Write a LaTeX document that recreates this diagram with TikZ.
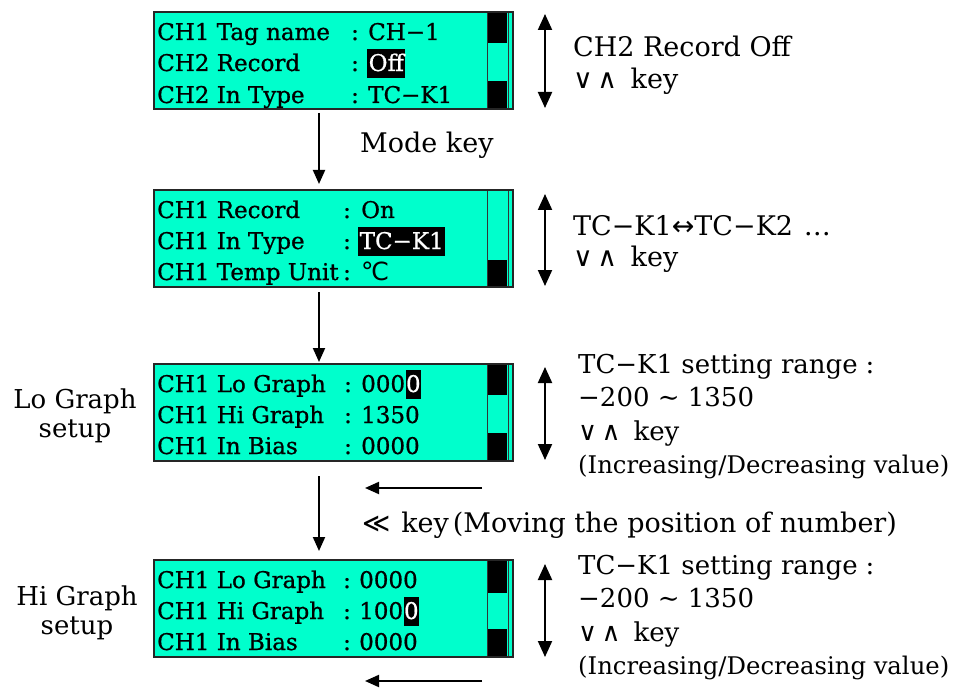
\documentclass[tikz,border=0pt]{standalone}
\usepackage{fontspec}
\setmainfont{DejaVu Serif}
\newfontfamily\symf{DejaVu Sans}
\newfontfamily\lcdfont[FakeBold=0.8]{DejaVu Serif}
\usetikzlibrary{arrows.meta}
\definecolor{lcdcyan}{RGB}{0,255,204}
\begin{document}
\begin{tikzpicture}[x=1pt,y=-1pt,
 lcd/.style={draw=black!85,line width=2.4pt,fill=lcdcyan,minimum width=359pt,minimum height=97pt,inner sep=0pt,outer sep=0pt,anchor=north west},
 ltxt/.style={anchor=base west,inner sep=0pt,font=\lcdfont\fontsize{23}{23}\selectfont},
 lcol/.style={anchor=base,inner sep=0pt,font=\lcdfont\fontsize{23}{23}\selectfont},
 hl/.style={anchor=base west,fill=black,text=white,inner xsep=1.5pt,inner ysep=0pt,text height=22pt,text depth=7pt,font=\lcdfont\fontsize{23}{23}\selectfont},
 lab/.style={anchor=base west,inner sep=0pt,font=\fontsize{27}{27}\selectfont},
 labs/.style={anchor=base west,inner sep=0pt,font=\fontsize{26}{26}\selectfont},
 labt/.style={anchor=base west,inner sep=0pt,font=\fontsize{24.3}{24.3}\selectfont},
 side/.style={anchor=base,inner sep=0pt,font=\fontsize{26}{26}\selectfont},
 arr/.style={line width=2pt,-{Triangle[length=14pt,width=12pt]}},
 darr/.style={line width=2pt,{Triangle[length=16pt,width=14pt]}-{Triangle[length=16pt,width=14pt]}},
 sbline/.style={line width=1pt,black!80}
]
\useasboundingbox (0,0) rectangle (954,690);

% LCD boxes
\node[lcd] (b1) at (154,12) {};
\node[lcd] (b2) at (154,190) {};
\node[lcd] (b3) at (154,364) {};
\node[lcd] (b4) at (154,560) {};

% scroll bars
\fill (488,13) rectangle (507,43);
\fill (488,81) rectangle (507,108);
\draw[sbline] (487,13) -- (487,108) (508,13) -- (508,108);
\fill (488,260) rectangle (507,286);
\draw[sbline] (487,191) -- (487,286) (508,191) -- (508,286);
\fill (488,365) rectangle (507,395);
\fill (488,433) rectangle (507,460);
\draw[sbline] (487,365) -- (487,460) (508,365) -- (508,460);
\fill (488,561) rectangle (507,593);
\fill (488,629) rectangle (507,656);
\draw[sbline] (487,561) -- (487,656) (508,561) -- (508,656);

% box 1
\node[ltxt] (n11) at (157,40) {CH1 Tag name};
\node[lcol] (c11) at (355,40) {:};
\node[ltxt] (v11) at (368,40) {CH−1};
\node[ltxt] (n12) at (157,71) {CH2 Record};
\node[lcol] (c12) at (355,71) {:};
\node[hl] (v12) at (367,71) {Off};
\node[ltxt] (n13) at (157,103) {CH2 In Type};
\node[lcol] (c13) at (355,103) {:};
\node[ltxt] (v13) at (368,103) {TC−K1};

% box 2
\node[ltxt] (n21) at (157,218) {CH1 Record};
\node[lcol] (c21) at (347,218) {:};
\node[ltxt] (v21) at (361,218) {On};
\node[ltxt] (n22) at (157,249) {CH1 In Type};
\node[lcol] (c22) at (347,249) {:};
\node[hl] (v22) at (358,249) {TC−K1};
\node[ltxt] (n23) at (157,280) {CH1 Temp Unit};
\node[lcol] (c23) at (347,280) {:};
\node[ltxt] (v23) at (361,280) {{\symf\fontsize{25}{25}\selectfont ℃}};

% box 3
\node[ltxt] (n31) at (157,392) {CH1 Lo Graph};
\node[lcol] (c31) at (348,392) {:};
\node[ltxt] (v31) at (361,392) {000};
\node[hl,inner xsep=0.5pt] (h31) at (v31.base east) {0};
\node[ltxt] (n32) at (157,423) {CH1 Hi Graph};
\node[lcol] (c32) at (348,423) {:};
\node[ltxt] (v32) at (361,423) {1350};
\node[ltxt] (n33) at (157,454) {CH1 In Bias};
\node[lcol] (c33) at (348,454) {:};
\node[ltxt] (v33) at (361,454) {0000};

% box 4
\node[ltxt] (n41) at (157,588) {CH1 Lo Graph};
\node[lcol] (c41) at (347,588) {:};
\node[ltxt] (v41) at (359,588) {0000};
\node[ltxt] (n42) at (157,619) {CH1 Hi Graph};
\node[lcol] (c42) at (347,619) {:};
\node[ltxt] (v42) at (359,619) {100};
\node[hl,inner xsep=0.5pt] (h42) at (v42.base east) {0};
\node[ltxt] (n43) at (157,650) {CH1 In Bias};
\node[lcol] (c43) at (347,650) {:};
\node[ltxt] (v43) at (359,650) {0000};

% vertical flow arrows
\draw[arr] ([xshift=-14.5pt,yshift=-4pt]b1.south) -- ([xshift=-14.5pt,yshift=6pt]b2.north);
\draw[arr] ([xshift=-14.5pt,yshift=-5pt]b2.south) -- ([xshift=-14.5pt,yshift=2pt]b3.north);
\draw[arr] ([xshift=-14.5pt,yshift=-15pt]b3.south) -- ([xshift=-14.5pt,yshift=9pt]b4.north);

% up/down key arrows
\coordinate (k1t) at (545,14); \coordinate (k1b) at (545,108);
\coordinate (k2t) at (545,194); \coordinate (k2b) at (545,286);
\coordinate (k3t) at (545,367); \coordinate (k3b) at (545,460);
\coordinate (k4t) at (545,564); \coordinate (k4b) at (545,657);
\draw[darr] (k1t) -- (k1b);
\draw[darr] (k2t) -- (k2b);
\draw[darr] (k3t) -- (k3b);
\draw[darr] (k4t) -- (k4b);

% left (position) arrows
\coordinate (p1s) at (482,488); \coordinate (p1e) at (365,488);
\coordinate (p2s) at (482,681); \coordinate (p2e) at (365,681);
\draw[arr] (p1s) -- (p1e);
\draw[arr] (p2s) -- (p2e);

% labels
\node[lab] (mk) at (360,153) {Mode key};
\node[lab] (l1a) at (573,57) {CH2 Record Off};
\node[lab] (l1b) at (573,89) {{\symf ∨\,∧}\hspace{0.5em}key};
\node[lab] (l2a) at (573,236) {TC−K1{\symf ↔}TC−K2\hspace{0.4em}…};
\node[lab] (l2b) at (573,266) {{\symf ∨\,∧}\hspace{0.5em}key};

\node[labs] (l3a) at (578,373) {TC−K1 setting range\hspace{0.3em}:};
\node[labs] (l3b) at (578,406) {−200 \textasciitilde\ 1350};
\node[labs] (l3c) at (578,440) {{\symf ∨\,∧}\hspace{0.5em}key};
\node[labt] (l3d) at (578,473) {(Increasing/Decreasing value)};

\node[labs] (l4a) at (578,574) {TC−K1 setting range\hspace{0.3em}:};
\node[labs] (l4b) at (578,607) {−200 \textasciitilde\ 1350};
\node[labs] (l4c) at (578,641) {{\symf ∨\,∧}\hspace{0.5em}key};
\node[labt] (l4d) at (578,674) {(Increasing/Decreasing value)};

\node[lab] (mv) at (362,532) {{\symf ≪}\hspace{0.4em}key\hspace{0.15em}(Moving the position of number)};

\node[side] (lo1) at (75,408) {Lo Graph};
\node[side] (lo2) at (75,437) {setup};
\node[side] (hi1) at (77,605) {Hi Graph};
\node[side] (hi2) at (77,634) {setup};
\end{tikzpicture}
\end{document}
